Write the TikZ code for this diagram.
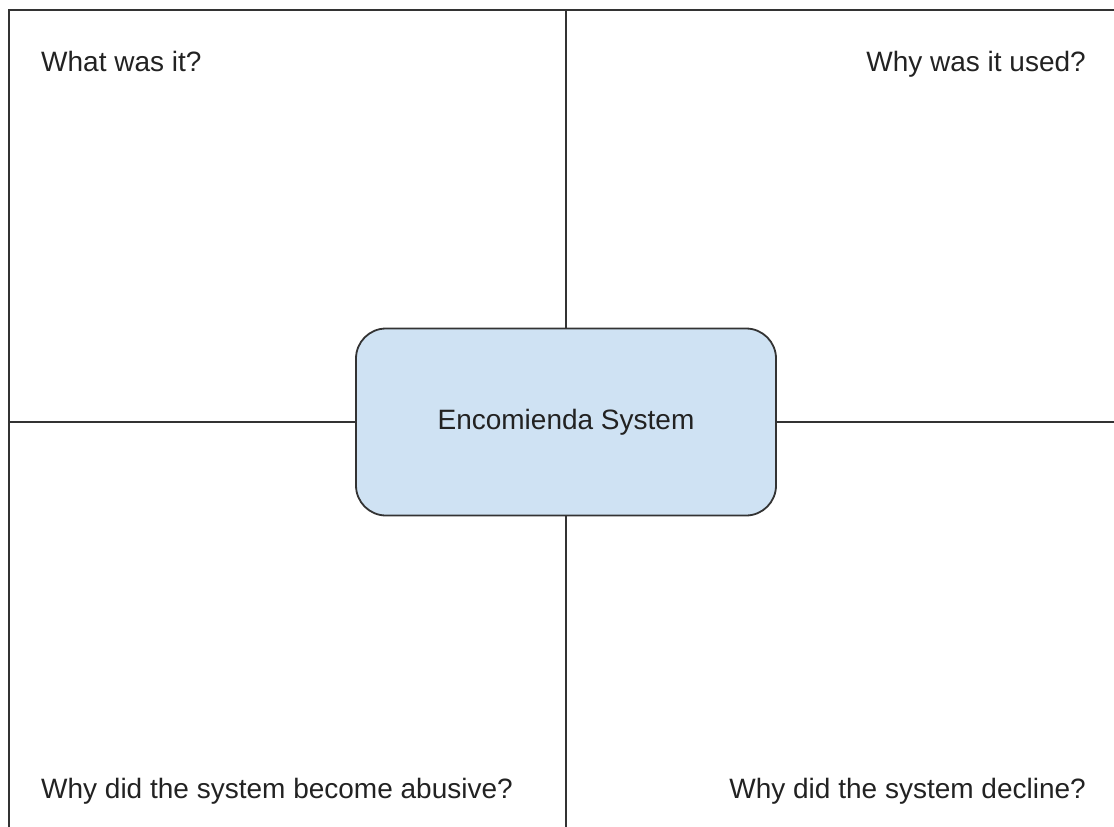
\documentclass[tikz,border=0pt]{standalone}
\usepackage{fontspec}
\setmainfont{Liberation Sans}
\definecolor{boxfill}{HTML}{CFE2F3}
\definecolor{linegray}{HTML}{333333}
\definecolor{txt}{HTML}{222222}
\tikzset{
  frame/.style={draw=linegray, line width=1.8pt},
  label/.style={inner sep=0pt, text=txt, font=\fontsize{28}{32}\selectfont},
  centerbox/.style={draw=linegray, line width=1.8pt, fill=boxfill, rounded corners=30pt,
    minimum width=420pt, minimum height=187pt, inner sep=0pt, text=txt,
    font=\fontsize{28}{32}\selectfont}
}
\begin{document}
\begin{tikzpicture}[x=1pt,y=-1pt]
\useasboundingbox (0,0) rectangle (1114,827);
\coordinate (tl) at (8,10);
\coordinate (tr) at (1114,10);
\coordinate (bl) at (9,827);
\coordinate (tl2) at (9,9.1);
\coordinate (vtop) at (566,10);
\coordinate (vbot) at (566,827);
\coordinate (hl) at (9,422);
\coordinate (hr) at (1114,422);
\node[centerbox] (sys) at (566,422) {Encomienda System};
\draw[frame] (tl) -- (tr);
\draw[frame] (tl2) -- (bl);
\draw[frame] (vtop) -- (sys.north);
\draw[frame] (sys.south) -- (vbot);
\draw[frame] (hl) -- (sys.west);
\draw[frame] (sys.east) -- (hr);
\node[label, anchor=base west] (q1) at (41,71) {What was it?};
\node[label, anchor=base east] (q2) at (1086,71) {Why was it used?};
\node[label, anchor=base west] (q3) at (41,798) {Why did the system become abusive?};
\node[label, anchor=base east] (q4) at (1086,798) {Why did the system decline?};
\end{tikzpicture}
\end{document}
